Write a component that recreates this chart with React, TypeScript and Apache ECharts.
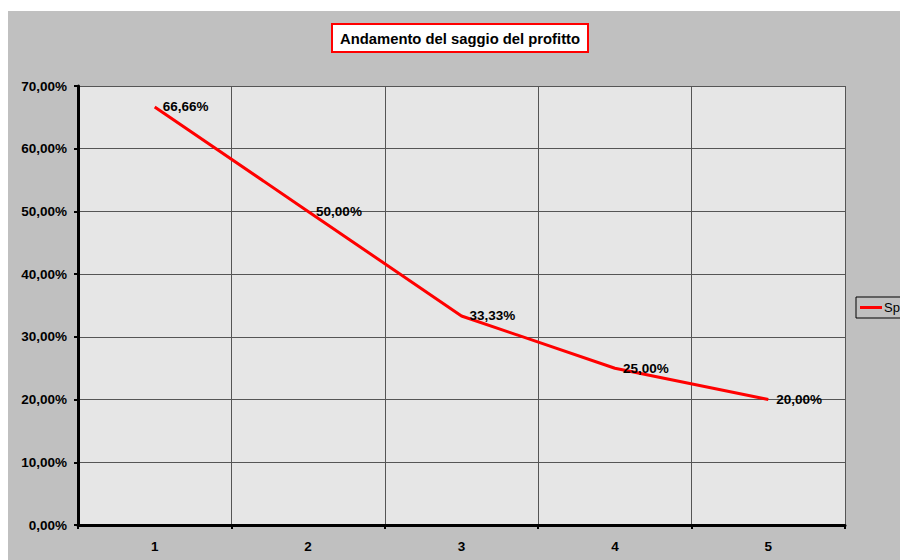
import React, { useEffect, useRef } from "react";
import * as echarts from "echarts";

const categories = ["1", "2", "3", "4", "5"];
const values = [66.66, 50.0, 33.33, 25.0, 20.0];
const seriesName = "Sp";
const titleText = "Andamento del saggio del profitto";

const fmt = (v: number) => v.toFixed(2).replace(".", ",") + "%";

export default function App() {
  const ref = useRef<HTMLDivElement>(null);
  useEffect(() => {
    if (!ref.current) return;
    const chart = echarts.init(ref.current, undefined, { renderer: "svg" });
    chart.setOption({
      animation: false,
      backgroundColor: "#c0c0c0",
      textStyle: { fontFamily: "Liberation Sans, Arial, sans-serif" },
      title: {
        text: titleText,
        left: 324,
        top: 13,
        backgroundColor: "#ffffff",
        borderColor: "#ff0000",
        borderWidth: 2,
        padding: [7, 8, 6, 8],
        textStyle: { fontSize: 14.8, fontWeight: "bold", color: "#000" },
      },
      legend: {
        left: 848,
        top: 286,
        orient: "vertical",
        data: [{ name: seriesName, icon: "rect" }],
        itemWidth: 22,
        itemHeight: 3,
        itemGap: 2,
        padding: [4, 4, 4, 4],
        borderColor: "#000",
        borderWidth: 1,
        backgroundColor: "#c0c0c0",
        textStyle: { fontSize: 13, color: "#000", padding: [0, 0, 0, -3] },
      },
      grid: {
        left: 70,
        top: 75,
        right: 55,
        bottom: 35,
        show: true,
        backgroundColor: "#e6e6e6",
        borderWidth: 0,
      },
      xAxis: {
        type: "category",
        data: categories,
        boundaryGap: true,
        axisLine: { show: true, lineStyle: { color: "#000", width: 3 } },
        axisTick: { show: true, length: 4, lineStyle: { color: "#000", width: 2 } },
        axisLabel: { fontSize: 13.5, fontWeight: "bold", color: "#000", margin: 14 },
        splitLine: { show: true, lineStyle: { color: "#555", width: 1 } },
      },
      yAxis: {
        type: "value",
        min: 0,
        max: 70,
        interval: 10,
        axisLine: { show: true, lineStyle: { color: "#000", width: 3 } },
        axisTick: { show: true, length: 4, lineStyle: { color: "#000", width: 2 } },
        axisLabel: {
          fontSize: 13.5,
          fontWeight: "bold",
          color: "#000",
          margin: 11,
          formatter: (v: number) => fmt(v),
        },
        splitLine: { show: true, lineStyle: { color: "#555", width: 1 } },
      },
      series: [
        {
          name: seriesName,
          type: "line",
          data: values,
          showSymbol: true,
          symbol: "circle",
          symbolSize: 0,
          lineStyle: { color: "#ff0000", width: 3 },
          itemStyle: { color: "#ff0000" },
          label: {
            show: true,
            position: "right",
            distance: 8,
            fontSize: 13.5,
            fontWeight: "bold",
            color: "#000",
            formatter: (p: any) => fmt(p.value),
          },
        },
      ],
    });
    return () => chart.dispose();
  }, []);
  return (
    <div
      ref={ref}
      style={{ position: "fixed", left: 8, top: 11, width: 892, height: 549 }}
    />
  );
}
